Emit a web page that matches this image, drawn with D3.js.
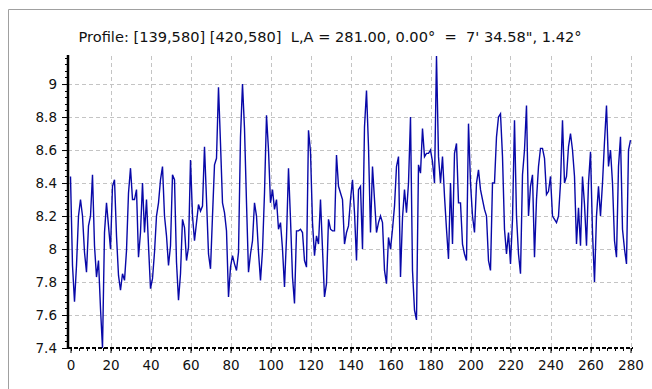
<!DOCTYPE html>
<html><head><meta charset="utf-8">
<script src="https://cdn.jsdelivr.net/npm/d3@7"></script>
<style>body{margin:0;background:#fff}svg{display:block}</style>
</head><body><svg id="c" width="652" height="389"></svg>
<script>
const titleText = "Profile: [139,580] [420,580]  L,A = 281.00, 0.00°  =  7' 34.58\", 1.42°";
const xTicks = [0,20,40,60,80,100,120,140,160,180,200,220,240,260,280];
const yTicks = [7.4,7.6,7.8,8.0,8.2,8.4,8.6,8.8,9.0];
const yTickLabels = ["7.4","7.6","7.8","8","8.2","8.4","8.6","8.8","9"];
const profile = [
8.44,7.9,7.68,7.9,8.2,8.3,8.2,7.98,7.86,8.14,
8.2,8.45,8.02,7.83,7.93,7.64,7.4,8.1,8.28,8.14,
8.0,8.38,8.42,8.08,7.84,7.75,7.85,7.81,7.99,8.34,
8.49,8.3,8.3,8.36,7.95,8.1,8.4,8.1,8.3,8.02,
7.76,7.82,7.98,8.2,8.28,8.42,8.5,8.2,8.08,7.9,
8.02,8.45,8.42,7.92,7.69,7.85,8.18,8.13,7.93,8.01,
8.54,8.2,8.05,8.16,8.27,8.23,8.26,8.62,8.3,7.97,
7.88,8.2,8.51,8.55,8.98,8.64,8.28,8.22,8.11,7.71,
7.89,7.96,7.91,7.87,7.98,8.68,9.0,8.73,8.28,7.86,
7.97,8.05,8.28,8.2,7.98,7.81,7.99,8.34,8.81,8.6,
8.28,8.36,8.24,8.3,8.12,8.16,8.0,7.77,8.07,8.49,
8.18,7.83,7.67,8.11,8.11,8.12,8.1,7.93,7.89,8.72,
8.59,8.16,7.96,8.08,8.03,8.3,8.0,7.71,7.79,8.18,
8.12,8.11,8.11,8.57,8.38,8.34,8.3,8.03,8.1,8.14,
8.3,8.42,8.22,7.93,8.36,8.38,8.0,8.74,8.96,8.62,
8.1,8.5,8.3,8.1,8.16,8.2,8.16,7.87,7.79,8.07,
8.0,8.12,8.26,8.5,8.56,7.83,8.19,8.36,8.22,8.4,
8.8,7.87,7.63,7.57,8.51,8.46,8.73,8.56,8.58,8.58,
8.6,8.53,8.4,9.17,8.56,8.4,8.56,8.32,8.12,7.94,
8.4,8.03,8.58,8.64,8.28,8.28,8.03,7.97,7.93,8.76,
8.4,8.2,8.1,8.4,8.48,8.36,8.3,8.24,8.2,7.93,
7.87,8.4,8.4,8.68,8.8,8.82,8.56,8.12,7.97,8.1,
7.91,8.18,8.78,8.2,7.97,7.85,8.45,8.6,8.87,8.2,
8.38,8.45,7.95,8.3,8.5,8.61,8.61,8.55,8.33,8.35,
8.44,8.2,8.18,8.16,8.2,8.4,8.78,8.4,8.44,8.62,
8.7,8.6,8.44,8.03,8.25,8.02,8.44,8.27,8.02,8.4,
8.59,8.1,7.8,8.2,8.38,8.2,8.4,8.65,8.87,8.5,
8.6,8.4,8.05,7.95,8.5,8.68,8.12,8.0,7.91,8.6,
8.66
];

const svg = d3.select("#c");
const x = d3.scaleLinear().domain([0, 280]).range([70.5, 630.5]);
const y = d3.scaleLinear().domain([d3.min(profile), d3.max(profile)]).range([348, 56]);
const plotL = 68, plotR = 633, plotT = 56, plotB = 348;
const font = "Tahoma, 'DejaVu Sans', sans-serif";

// panel border
svg.append("path").attr("d", "M8.5,389 V9.5 H652").attr("fill","none").attr("stroke","#a0a0a0");

// grid
const grid = svg.append("g").attr("stroke","#c4c4c4").attr("stroke-dasharray","4,3").attr("stroke-width",1);
grid.selectAll(".gx").data(xTicks.filter(d=>d>0)).enter().append("line")
  .attr("x1", d=>Math.round(x(d))+0.5).attr("x2", d=>Math.round(x(d))+0.5)
  .attr("y1", plotT).attr("y2", plotB);
grid.selectAll(".gy").data(yTicks.filter(d=>d>7.4)).enter().append("line")
  .attr("y1", d=>Math.round(y(d))+0.5).attr("y2", d=>Math.round(y(d))+0.5)
  .attr("x1", plotL).attr("x2", plotR);

// line
svg.append("path").datum(profile)
  .attr("fill","none").attr("stroke","#0808a8").attr("stroke-width",1.4)
  .attr("d", d3.line().x((d,i)=>x(i)).y(d=>y(d)));

// axes
const yAxis = d3.axisLeft(y).tickValues(yTicks).tickFormat((d,i)=>yTickLabels[i]).tickSize(6).tickPadding(5);
const gy = svg.append("g").attr("transform",`translate(${plotL},0)`).call(yAxis);
const yMinor = d3.range(0, 45).map(k=>7.4+k*0.04).filter(v=>v<=9.17);
svg.append("g").selectAll("line").data(yMinor).enter().append("line")
  .attr("x1", plotL-3).attr("x2", plotL).attr("y1", d=>Math.round(y(d))+0.5).attr("y2", d=>Math.round(y(d))+0.5)
  .attr("stroke","#000");
const xAxis = d3.axisBottom(x).tickValues(xTicks).tickSize(5).tickPadding(7);
const gx = svg.append("g").attr("transform",`translate(0,${plotB})`).call(xAxis);
const xMinor = d3.range(0, 281, 4);
svg.append("g").selectAll("line").data(xMinor).enter().append("line")
  .attr("x1", d=>Math.round(x(d))+0.5).attr("x2", d=>Math.round(x(d))+0.5).attr("y1", plotB).attr("y2", plotB+3)
  .attr("stroke","#000");
[gx, gy].forEach(g=>{
  g.select(".domain").remove();
  g.selectAll("text").attr("font-family",font).attr("font-size",13.5).attr("fill","#111");
});
svg.append("line").attr("x1",plotL).attr("x2",plotL).attr("y1",plotT-1).attr("y2",plotB+1).attr("stroke","#000").attr("stroke-width",2.5);
svg.append("line").attr("x1",plotL).attr("x2",plotR).attr("y1",plotB).attr("y2",plotB).attr("stroke","#000").attr("stroke-width",2).attr("stroke-dasharray","4,2");

// title
svg.append("text").attr("x", 330).attr("y", 42).attr("text-anchor","middle")
  .attr("font-family",font).attr("font-size",14.6).attr("fill","#111")
  .style("white-space","pre").attr("xml:space","preserve")
  .text(titleText);
</script></body></html>
